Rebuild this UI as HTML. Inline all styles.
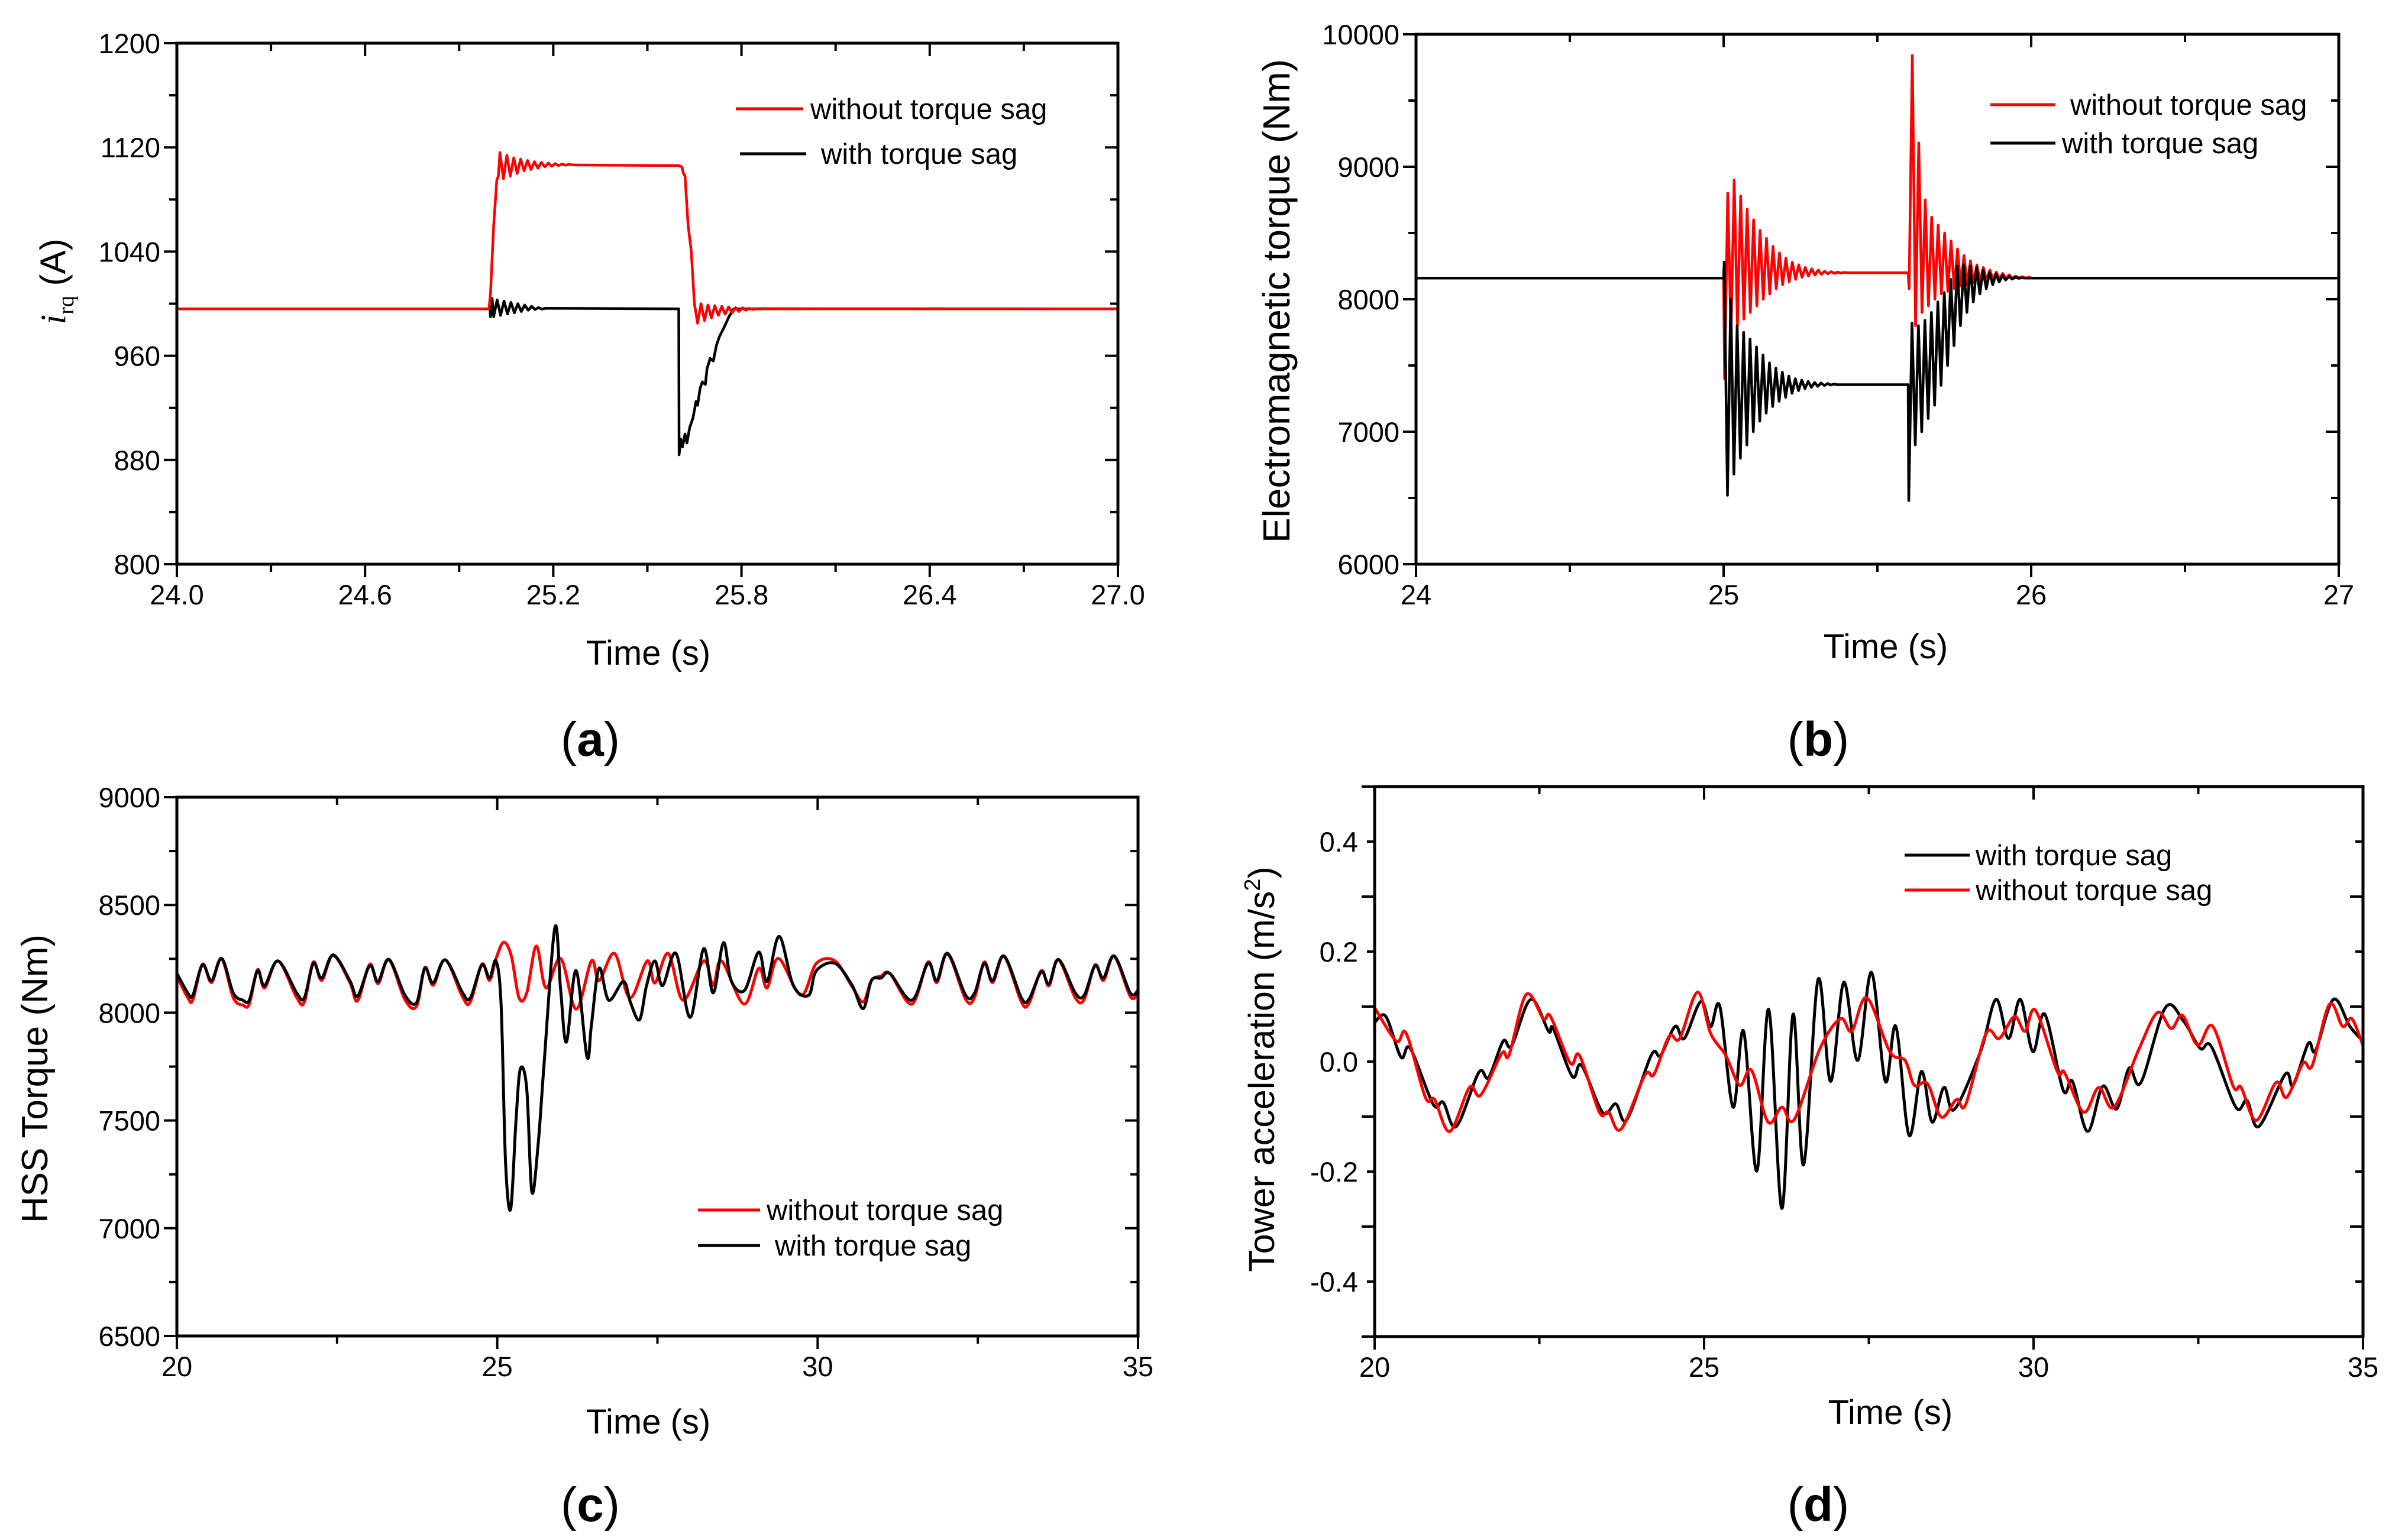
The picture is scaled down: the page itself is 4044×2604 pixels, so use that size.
<!DOCTYPE html>
<html><head><meta charset="utf-8">
<style>
html,body{margin:0;padding:0;background:#fff;}
svg{display:block;}
text{font-family:"Liberation Sans",sans-serif;fill:#000;}
</style></head>
<body>
<svg id="fig" width="4044" height="2604" viewBox="0 0 4044 2604" xmlns="http://www.w3.org/2000/svg">
<rect x="0" y="0" width="4044" height="2604" fill="#fff"/>
</svg>
<script>
// ===== Panel (a) data: i_rq (A) =====
const aRedSteps1 = [[24.0,996],[24.995,996],[25.0,1008],[25.01,1060],[25.02,1095],[25.025,1098]];
const aRedOsc1 = [1116,1096,1114,1098,1112,1100,1111,1102,1110,1103,1109,1104,1108.5,1105,1108,1105.5,1107.5,1106,1107.2,1106.3,1107,1106.5];
const aRedSteps2 = [[25.6,1106],[25.61,1105],[25.615,1100],[25.62,1098],[25.63,1060],[25.64,1040],[25.65,1000]];
const aRedOsc2 = [985,1000,987,999,989,998.5,991,998,992,997.5,993,997,994,996.8,995,996.5,995.5,996.2];
const aBlackSteps1 = [[24.0,996],[24.998,996],[25.0,990],[25.005,1004]];
const aBlackOsc1 = [990,1003,991,1002,992,1001,993,1000,994,999,995,998,995.5,997,995.8,996.5];
const aBlackSteps2 = [[25.6,996],[25.601,884],[25.607,896],[25.612,890],[25.62,900],[25.626,893],[25.635,905],[25.645,912],[25.65,918],[25.655,925],[25.66,922],[25.668,935],[25.675,940],[25.685,938],[25.69,950],[25.7,958],[25.71,956],[25.72,968],[25.73,975],[25.745,982],[25.76,990],[25.775,996],[27.0,996]];
const aOscStart = [25.03, 25.66, 25.01];
const aHalfPeriod = 0.011;

// ===== Panel (b) data: electromagnetic torque (Nm) =====
const bRedOsc1 = [7400,8800,7750,8900,7800,8780,7850,8680,7900,8600,7950,8520,8000,8460,8040,8400,8080,8350,8110,8310,8130,8280,8150,8260,8165,8240,8175,8230,8182,8220,8188,8212,8192,8208,8195,8205,8197,8203,8200];
const bRedOsc2 = [8080,9840,7800,9180,7900,8750,7950,8620,8000,8560,8040,8500,8060,8440,8080,8380,8100,8330,8110,8290,8125,8260,8135,8240,8145,8220,8150,8205,8155,8195,8157,8185,8158,8175,8160,8170,8160,8165,8160];
const bBlackOsc1 = [8280,6520,8000,6680,7800,6800,7750,6900,7700,7000,7640,7080,7580,7140,7520,7190,7480,7230,7450,7260,7420,7290,7400,7310,7390,7325,7380,7335,7372,7342,7368,7348,7364,7352,7360,7355];
const bBlackOsc2 = [6480,7820,6900,7800,7000,7840,7100,7900,7200,7980,7350,8050,7500,8150,7650,8250,7800,8260,7900,8250,7980,8240,8040,8220,8080,8200,8110,8190,8130,8180,8145,8172,8152,8166,8158,8162,8160];
const bBase = [8160, 8200, 7355];
const bEvents = [25.0, 25.6];
const bHalfPeriod = 0.0105;

// ===== Panel (c) data: HSS torque (Nm) =====
const cBlackT = [20.00,20.17,20.25,20.40,20.54,20.70,20.88,21.03,21.13,21.26,21.37,21.58,21.87,21.99,22.13,22.26,22.44,22.70,22.82,23.01,23.14,23.31,23.56,23.74,23.87,24.00,24.19,24.46,24.58,24.76,24.88,24.98,25.06,25.13,25.21,25.29,25.36,25.46,25.54,25.64,25.73,25.90,25.99,26.08,26.23,26.40,26.47,26.59,26.74,26.97,27.08,27.22,27.33,27.46,27.58,27.79,28.01,28.22,28.37,28.53,28.65,28.86,29.08,29.21,29.40,29.62,29.86,29.98,30.27,30.54,30.71,30.84,30.99,31.13,31.47,31.72,31.86,32.03,32.31,32.45,32.60,32.73,32.91,33.18,33.30,33.49,33.61,33.76,34.02,34.16,34.33,34.46,34.63,34.88,35.00];
const cBlackV = [8183,8092,8081,8222,8149,8252,8092,8058,8058,8195,8126,8240,8092,8069,8229,8161,8268,8149,8076,8218,8145,8247,8081,8047,8206,8138,8245,8092,8069,8222,8161,8240,8035,7305,7089,7488,7739,7647,7168,7396,7761,8396,8104,7864,8195,7796,7944,8206,8058,8145,8047,7967,8126,8240,8126,8275,7978,8297,8092,8325,8149,8104,8281,8145,8354,8126,8081,8195,8229,8126,8019,8149,8161,8181,8058,8229,8149,8275,8081,8092,8229,8149,8263,8069,8063,8190,8133,8247,8092,8081,8218,8161,8263,8092,8104];
const cRedT = [20.00,20.17,20.25,20.40,20.54,20.70,20.88,21.03,21.13,21.26,21.37,21.58,21.87,21.99,22.13,22.26,22.44,22.70,22.82,23.01,23.14,23.31,23.56,23.74,23.87,24.00,24.19,24.46,24.58,24.76,24.88,24.98,25.10,25.22,25.34,25.46,25.61,25.76,25.99,26.23,26.47,26.59,26.83,27.07,27.34,27.46,27.67,27.90,28.22,28.37,28.50,28.85,29.08,29.21,29.39,29.74,29.98,30.27,30.54,30.71,30.84,30.99,31.13,31.47,31.72,31.86,32.03,32.31,32.45,32.60,32.73,32.91,33.18,33.30,33.49,33.61,33.76,34.02,34.16,34.33,34.46,34.63,34.88,35.00];
const cRedV = [8170,8070,8060,8225,8140,8250,8070,8035,8040,8200,8115,8240,8070,8050,8235,8150,8265,8140,8055,8225,8135,8245,8060,8030,8210,8128,8245,8072,8050,8225,8150,8250,8327,8263,8069,8092,8309,8115,8252,8017,8240,8149,8275,8069,8240,8138,8275,8058,8240,8126,8240,8040,8206,8115,8252,8081,8229,8240,8120,8050,8150,8170,8181,8040,8235,8140,8272,8062,8072,8235,8140,8260,8050,8045,8195,8125,8245,8070,8062,8222,8150,8260,8075,8090];

// ===== Panel (d) data: tower acceleration (m/s^2) =====
const dBlackT = [20.00,20.17,20.40,20.54,20.89,21.04,21.24,21.58,21.73,21.95,22.08,22.37,22.64,22.71,23.00,23.14,23.46,23.66,23.83,24.20,24.34,24.56,24.70,24.95,25.10,25.24,25.44,25.60,25.80,25.98,26.18,26.35,26.51,26.73,26.92,27.12,27.33,27.54,27.75,27.91,28.11,28.30,28.46,28.64,28.80,29.20,29.43,29.62,29.80,29.99,30.17,30.45,30.59,30.82,31.05,31.26,31.45,31.63,32.00,32.28,32.53,32.70,33.07,33.24,33.42,33.82,33.94,34.17,34.28,34.55,34.80,35.00];
const dBlackV = [0.071,0.082,0.008,0.024,-0.078,-0.074,-0.118,-0.020,-0.029,0.037,0.029,0.113,0.055,0.060,-0.027,-0.007,-0.092,-0.077,-0.105,0.012,0.011,0.064,0.042,0.109,0.064,0.100,-0.083,0.055,-0.199,0.095,-0.267,0.086,-0.188,0.149,-0.036,0.144,0.002,0.162,-0.036,0.064,-0.134,-0.018,-0.110,-0.047,-0.087,0.020,0.113,0.042,0.113,0.018,0.086,-0.052,-0.036,-0.127,-0.045,-0.086,-0.012,-0.038,0.098,0.073,0.024,0.027,-0.083,-0.071,-0.118,-0.023,-0.043,0.033,0.020,0.113,0.064,0.037];
const dRedT = [20.00,20.33,20.48,20.77,20.91,21.14,21.44,21.61,21.93,22.04,22.30,22.56,22.67,22.97,23.11,23.41,23.55,23.74,24.10,24.24,24.47,24.63,24.90,25.10,25.33,25.54,25.72,25.97,26.18,26.37,26.76,27.07,27.24,27.47,27.82,28.05,28.19,28.39,28.60,28.83,28.97,29.28,29.48,29.71,29.87,30.03,30.36,30.47,30.76,30.99,31.22,31.59,31.88,32.09,32.26,32.49,32.72,33.03,33.15,33.38,33.68,33.84,34.09,34.23,34.49,34.69,34.83,35.00];
const dRedV = [0.098,0.037,0.051,-0.065,-0.069,-0.127,-0.047,-0.061,0.015,0.012,0.122,0.078,0.082,-0.003,0.011,-0.092,-0.092,-0.123,-0.025,-0.023,0.046,0.042,0.126,0.051,0.011,-0.043,-0.016,-0.110,-0.083,-0.105,0.024,0.078,0.055,0.116,0.018,0.002,-0.043,-0.040,-0.101,-0.069,-0.078,0.051,0.042,0.082,0.055,0.093,-0.018,-0.020,-0.092,-0.047,-0.083,0.020,0.089,0.060,0.084,0.030,0.064,-0.045,-0.047,-0.107,-0.038,-0.065,-0.003,-0.007,0.104,0.064,0.078,0.029];

// ===== tick labels =====
const aXTicks = ["24.0","24.6","25.2","25.8","26.4","27.0"];
const aYTicks = ["800","880","960","1040","1120","1200"];
const bXTicks = ["24","25","26","27"];
const bYTicks = ["6000","7000","8000","9000","10000"];
const cXTicks = ["20","25","30","35"];
const cYTicks = ["6500","7000","7500","8000","8500","9000"];
const dXTicks = ["20","25","30","35"];
const dYTicks = ["-0.4","-0.2","0.0","0.2","0.4"];

const NS = "http://www.w3.org/2000/svg";
const svg = document.getElementById('fig');
function el(tag, attrs, parent){
  const e = document.createElementNS(NS, tag);
  for (const k in attrs) e.setAttribute(k, attrs[k]);
  (parent||svg).appendChild(e);
  return e;
}

function panel(cfg){
  const g = el('g', {});
  
  
  const sx = v => cfg.x0 + (v - cfg.xmin) / (cfg.xmax - cfg.xmin) * (cfg.x1 - cfg.x0);
  const sy = v => cfg.y1 - (v - cfg.ymin) / (cfg.ymax - cfg.ymin) * (cfg.y1 - cfg.y0);
  const tg = el('g', {stroke:'#000','stroke-width':4}, g);
  
  
  for (let v = cfg.xmin; v <= cfg.xmax + 1e-9; v += cfg.xminor){
    const major = Math.abs(((v - cfg.xmin) / cfg.xmajor) - Math.round((v - cfg.xmin) / cfg.xmajor)) < 1e-6;
    const L = major ? 22 : 13;
    const X = sx(v);
    el('line', {x1:X, y1:cfg.y1, x2:X, y2:cfg.y1 + L}, tg);
    el('line', {x1:X, y1:cfg.y0, x2:X, y2:cfg.y0 + L}, tg);
  }
  for (let v = cfg.ymin; v <= cfg.ymax + 1e-9; v += cfg.yminor){
    const major = Math.abs(((v - cfg.ymin) / cfg.ymajor) - Math.round((v - cfg.ymin) / cfg.ymajor)) < 1e-6;
    const L = major ? 22 : 13;
    const Y = sy(v);
    el('line', {x1:cfg.x0 - L, y1:Y, x2:cfg.x0, y2:Y}, tg);
    el('line', {x1:cfg.x1 - L, y1:Y, x2:cfg.x1, y2:Y}, tg);
  }
  cfg.xlabels.forEach((s, i) => {
    const t = el('text', {x:sx(cfg.xmin + i * cfg.xmajor), y:cfg.y1 + 68, 'font-size':47, 'text-anchor':'middle'}, g);
    
    
    t.textContent = s;
  });
  cfg.ylabels.forEach((s, i) => {
    const t = el('text', {x:cfg.x0 - 28, y:sy(cfg.ylabel0 + i * cfg.ymajor) + 17, 'font-size':47, 'text-anchor':'end'}, g);
    
    
    t.textContent = s;
  });
  cfg.sx = sx; cfg.sy = sy; cfg.g = g;
  return cfg;
}
function frame(cfg){
  const r = el('rect', {x:cfg.x0, y:cfg.y0, width:cfg.x1 - cfg.x0, height:cfg.y1 - cfg.y0, fill:'none', stroke:'#000', 'stroke-width':5}, cfg.g);
  
  
}
function linePath(cfg, pts, color, name){
  const d = pts.map((p, i) => (i ? 'L' : 'M') + cfg.sx(p[0]).toFixed(1) + ' ' + cfg.sy(p[1]).toFixed(1)).join(' ');
  const p = el('path', {d:d, fill:'none', stroke:color, 'stroke-width':4.5, 'stroke-linejoin':'round'}, cfg.g);
  
  
}
function smoothPath(cfg, T, V, color, name){
  const P = T.map((t, i) => [cfg.sx(t), cfg.sy(V[i])]);
  let d = 'M' + P[0][0].toFixed(1) + ' ' + P[0][1].toFixed(1);
  for (let i = 0; i < P.length - 1; i++){
    const p0 = P[Math.max(0, i - 1)], p1 = P[i], p2 = P[i + 1], p3 = P[Math.min(P.length - 1, i + 2)];
    const c1 = [p1[0] + (p2[0] - p0[0]) / 6, p1[1] + (p2[1] - p0[1]) / 6];
    const c2 = [p2[0] - (p3[0] - p1[0]) / 6, p2[1] - (p3[1] - p1[1]) / 6];
    d += ' C' + c1[0].toFixed(1) + ' ' + c1[1].toFixed(1) + ' ' + c2[0].toFixed(1) + ' ' + c2[1].toFixed(1) + ' ' + p2[0].toFixed(1) + ' ' + p2[1].toFixed(1);
  }
  const p = el('path', {d:d, fill:'none', stroke:color, 'stroke-width':5, 'stroke-linejoin':'round'}, cfg.g);
  
  
}
function osc(start, half, vals){ return vals.map((v, i) => [start + i * half, v]); }
function text(x, y, s, size, name, extra){
  const t = el('text', Object.assign({x:x, y:y, 'font-size':size}, extra || {}));
  
  
  t.textContent = s;
  return t;
}
function legendEntry(x1, x2, y, color, label, tx){
  const l = el('line', {x1:x1, y1:y, x2:x2, y2:y, stroke:color, 'stroke-width':5});
  
  
  text(tx, y + 17, label, 49, 'legend-entry');
}

// ---------- Panel a ----------
const A = panel({id:'a', x0:299, x1:1890, y0:73, y1:954, xmin:24, xmax:27, xmajor:0.6, xminor:0.3, ymin:800, ymax:1200, ymajor:80, yminor:40, ylabel0:800, xlabels:aXTicks, ylabels:aYTicks});
const aRed = aRedSteps1.concat(osc(aOscStart[0], aHalfPeriod, aRedOsc1)).concat(aRedSteps2).concat(osc(aOscStart[1], aHalfPeriod, aRedOsc2)).concat([[27.0,996]]);
const aBlack = aBlackSteps1.concat(osc(aOscStart[2], aHalfPeriod, aBlackOsc1)).concat(aBlackSteps2);
linePath(A, aBlack, '#000', 'series-with-torque-sag-a');
linePath(A, aRed, '#f00', 'series-without-torque-sag-a');
frame(A);

// ---------- Panel b ----------
const B = panel({id:'b', x0:2394, x1:3954, y0:58, y1:954, xmin:24, xmax:27, xmajor:1, xminor:0.5, ymin:6000, ymax:10000, ymajor:1000, yminor:500, ylabel0:6000, xlabels:bXTicks, ylabels:bYTicks});
const bRed = [[24,bBase[0]],[bEvents[0],bBase[0]]].concat(osc(bEvents[0] + 0.003, bHalfPeriod, bRedOsc1)).concat([[bEvents[1],bBase[1]]]).concat(osc(bEvents[1] + 0.003, bHalfPeriod, bRedOsc2)).concat([[27,bBase[0]]]);
const bBlack = [[24,bBase[0]],[bEvents[0],bBase[0]]].concat(osc(bEvents[0] + 0.002, bHalfPeriod, bBlackOsc1)).concat([[bEvents[1],bBase[2]]]).concat(osc(bEvents[1] + 0.002, bHalfPeriod, bBlackOsc2)).concat([[27,bBase[0]]]);
linePath(B, bRed, '#f00', 'series-without-torque-sag-b');
linePath(B, bBlack, '#000', 'series-with-torque-sag-b');
frame(B);

// ---------- Panel c ----------
const C = panel({id:'c', x0:299, x1:1924, y0:1348, y1:2259, xmin:20, xmax:35, xmajor:5, xminor:2.5, ymin:6500, ymax:9000, ymajor:500, yminor:250, ylabel0:6500, xlabels:cXTicks, ylabels:cYTicks});
smoothPath(C, cRedT, cRedV, '#f00', 'series-without-torque-sag-c');
smoothPath(C, cBlackT, cBlackV, '#000', 'series-with-torque-sag-c');
frame(C);

// ---------- Panel d ----------
const D = panel({id:'d', x0:2324, x1:3995, y0:1330, y1:2260, xmin:20, xmax:35, xmajor:5, xminor:2.5, ymin:-0.5, ymax:0.5, ymajor:0.2, yminor:0.1, ylabel0:-0.4, xlabels:dXTicks, ylabels:dYTicks});
smoothPath(D, dBlackT, dBlackV, '#000', 'series-with-torque-sag-d');
smoothPath(D, dRedT, dRedV, '#f00', 'series-without-torque-sag-d');
frame(D);

// ---------- axis titles ----------
text(1096, 1124, 'Time (s)', 58, 'x-axis-title-a', {'text-anchor':'middle'});
text(3188, 1113, 'Time (s)', 58, 'x-axis-title-b', {'text-anchor':'middle'});
text(1096, 2424, 'Time (s)', 58, 'x-axis-title-c', {'text-anchor':'middle'});
text(3196, 2408, 'Time (s)', 58, 'x-axis-title-d', {'text-anchor':'middle'});

(function(){
  const t = el('text', {transform:'translate(110,476) rotate(-90)', 'font-size':60, 'text-anchor':'middle'});
  
  
  const s1 = el('tspan', {'font-family':'Liberation Serif, serif', 'font-style':'italic'}, t); s1.textContent = 'i';
  const s2 = el('tspan', {'font-family':'Liberation Serif, serif', 'font-size':38, dy:14}, t); s2.textContent = 'rq';
  const s3 = el('tspan', {dy:-14}, t); s3.textContent = ' (A)';
})();
text(0, 0, 'Electromagnetic torque (Nm)', 64, 'y-axis-title-b', {transform:'translate(2180,509) rotate(-90)', 'text-anchor':'middle'});
text(0, 0, 'HSS Torque (Nm)', 62, 'y-axis-title-c', {transform:'translate(80,1824) rotate(-90)', 'text-anchor':'middle'});
(function(){
  const t = el('text', {transform:'translate(2154,1808) rotate(-90)', 'font-size':61, 'text-anchor':'middle'});
  
  
  const s1 = el('tspan', {}, t); s1.textContent = 'Tower acceleration (m/s';
  const s2 = el('tspan', {'font-size':38, dy:-24}, t); s2.textContent = '2';
  const s3 = el('tspan', {dy:24}, t); s3.textContent = ')';
})();

// ---------- legends ----------
legendEntry(1244, 1358, 184, '#f00', 'without torque sag', 1370);
legendEntry(1251, 1363, 260, '#000', 'with torque sag', 1388);
legendEntry(3365, 3475, 177, '#f00', 'without torque sag', 3500);
legendEntry(3365, 3475, 242, '#000', 'with torque sag', 3486);
legendEntry(1180, 1285, 2046, '#f00', 'without torque sag', 1296);
legendEntry(1180, 1285, 2106, '#000', 'with torque sag', 1310);
legendEntry(3220, 3330, 1446, '#000', 'with torque sag', 3340);
legendEntry(3220, 3330, 1505, '#f00', 'without torque sag', 3340);

// ---------- panel letters ----------
function letter(x, y, ch, name){
  const t = el('text', {x:x, y:y, 'font-size':82, 'text-anchor':'middle', 'font-family':'Liberation Serif, serif'});
  
  
  const a = el('tspan', {}, t); a.textContent = '(';
  const b = el('tspan', {'font-weight':'bold'}, t); b.textContent = ch;
  const c = el('tspan', {}, t); c.textContent = ')';
}
letter(998, 1278, 'a', 'panel-label-a');
letter(3074, 1278, 'b', 'panel-label-b');
letter(998, 2572, 'c', 'panel-label-c');
letter(3074, 2572, 'd', 'panel-label-d');
</script>
</body></html>
